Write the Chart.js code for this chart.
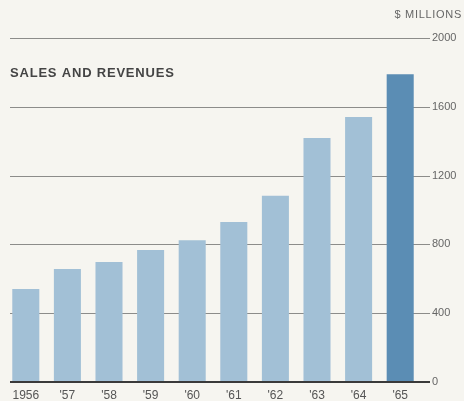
<!DOCTYPE html>
<html>
<head>
<meta charset="utf-8">
<script src="https://cdn.jsdelivr.net/npm/chart.js@4"></script>
<style>
  html, body { margin: 0; padding: 0; background: #f6f5f0; }
  #wrap { width: 464px; height: 401px; position: relative; }
</style>
</head>
<body>
<div id="wrap"><canvas id="chart"></canvas></div>
<script>
// years along the bottom, sales in $ millions
const years = ['1956', "'57", "'58", "'59", "'60", "'61", "'62", "'63", "'64", "'65"];
const sales = [541, 657, 698, 767, 824, 930, 1083, 1419, 1541, 1789];
const yTicks = [0, 400, 800, 1200, 1600, 2000];

const LIGHT = '#a2c0d6';
const DARK = '#5b8db4';

// horizontal rules + captions drawn on top of the scales
const rulesPlugin = {
  id: 'rules',
  beforeDatasetsDraw(chart) {
    const { ctx } = chart;
    const y = chart.scales.y;
    ctx.save();
    yTicks.forEach(v => {
      if (v === 0) return;
      const py = Math.round(y.getPixelForValue(v)) + 0.5;
      ctx.strokeStyle = '#8c8c8a';
      ctx.lineWidth = 1;
      ctx.beginPath();
      ctx.moveTo(10, py);
      ctx.lineTo(430, py);
      ctx.stroke();
    });
    ctx.restore();
  },
  afterDatasetsDraw(chart) {
    const { ctx } = chart;
    const y = chart.scales.y;
    ctx.save();
    const py0 = y.getPixelForValue(0);
    ctx.strokeStyle = '#3a3a3a';
    ctx.lineWidth = 2;
    ctx.beginPath();
    ctx.moveTo(10, py0);
    ctx.lineTo(430, py0);
    ctx.stroke();

    ctx.fillStyle = '#444';
    ctx.font = 'bold 13px "Liberation Sans", Arial, sans-serif';
    ctx.textBaseline = 'middle';
    ctx.textAlign = 'left';
    if ('letterSpacing' in ctx) ctx.letterSpacing = '0.8px';
    ctx.fillText('SALES AND REVENUES', 10, 73);

    ctx.fillStyle = '#666';
    ctx.font = '11px "Liberation Sans", Arial, sans-serif';
    if ('letterSpacing' in ctx) ctx.letterSpacing = '0.7px';
    ctx.textAlign = 'right';
    ctx.fillText('$ MILLIONS', 462, 15);
    ctx.restore();
  }
};

new Chart(document.getElementById('chart'), {
  type: 'bar',
  data: {
    labels: years,
    datasets: [{
      data: sales,
      backgroundColor: sales.map((_, i) => i === sales.length - 1 ? DARK : LIGHT),
      borderWidth: 0,
      barPercentage: 0.65,
      categoryPercentage: 1.0
    }]
  },
  options: {
    responsive: true,
    maintainAspectRatio: false,
    animation: false,
    layout: { padding: { top: 38, left: 5, right: 0, bottom: 0 } },
    plugins: {
      legend: { display: false },
      tooltip: { enabled: false }
    },
    scales: {
      x: {
        grid: { display: false, drawTicks: false },
        border: { display: false },
        ticks: {
          color: '#555',
          font: { family: '"Liberation Sans", Arial, sans-serif', size: 12 },
          padding: 6,
          maxRotation: 0
        },
        afterFit(scale) { scale.height = 19; }
      },
      y: {
        position: 'right',
        min: 0,
        max: 2000,
        afterBuildTicks(scale) { scale.ticks = yTicks.map(v => ({ value: v })); },
        grid: { display: false, drawTicks: false },
        border: { display: false },
        ticks: {
          color: '#666',
          font: { family: '"Liberation Sans", Arial, sans-serif', size: 11 },
          padding: 11,
          callback: v => String(v)
        },
        afterFit(scale) { scale.width = 43; }
      }
    }
  },
  plugins: [rulesPlugin]
});
</script>
</body>
</html>
